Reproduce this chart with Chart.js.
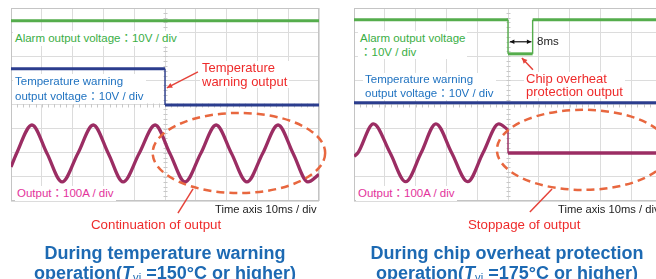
<!DOCTYPE html>
<html>
<head>
<meta charset="utf-8">
<script src="https://cdn.jsdelivr.net/npm/chart.js@4.4.1/dist/chart.umd.min.js"></script>
<style>
    html, body { margin: 0; padding: 0; background: #fff; overflow: hidden; }
    #stage {
        position: relative; width: 656px; height: 279px; overflow: hidden;
        font-family: "Liberation Sans", Arial, "Noto Sans CJK JP", sans-serif;
    }
    canvas { position: absolute; top: 0; }
    .lbl { position: absolute; white-space: nowrap; font-size: 11.5px; line-height: 15px; background: #fff; padding: 0 2px; }
    .green { color: #3aae45; }
    .blue { color: #1f72c0; }
    .pink { color: #e3329b; }
    .red { color: #ee2b2b; font-size: 13px; line-height: 13.5px; }
    .black { color: #222; font-size: 11.2px; background: none; }
    .title {
        position: absolute; text-align: center; font-weight: bold; font-size: 18px; line-height: 20px;
        color: #1d6ab3; white-space: nowrap;
    }
    .title sub { font-size: 0.62em; font-weight: normal; vertical-align: -2px; }
</style>
</head>
<body>
<div id="stage">
    <canvas id="leftScope" width="330" height="279" style="left:0"></canvas>
    <canvas id="rightScope" width="340" height="279" style="left:330px"></canvas>

    <!-- left panel -->
    <div class="lbl green" style="left:13px;top:31px">Alarm output voltage：10V / div</div>
    <div class="lbl blue" style="left:13px;top:74px">Temperature warning<br>output voltage：10V / div</div>
    <div class="lbl red" style="left:200px;top:61px">Temperature<br>warning output</div>
    <div class="lbl pink" style="left:15px;top:186px">Output：100A / div</div>
    <div class="lbl black" style="left:213px;top:202px">Time axis 10ms / div</div>
    <div class="lbl red" style="left:89px;top:218px;background:none;font-size:13.3px">Continuation of output</div>
    <div class="title" style="left:0;width:330px;top:243px">During temperature warning<br>operation(<i>T</i><sub>vj</sub> =150°C or higher)</div>

    <!-- right panel -->
    <div class="lbl green" style="left:358px;top:31px;line-height:14px">Alarm output voltage<br>：10V / div</div>
    <div class="lbl blue" style="left:363px;top:73px;line-height:13.5px">Temperature warning<br>output voltage：10V / div</div>
    <div class="lbl black" style="left:535px;top:34px;font-size:11.5px">8ms</div>
    <div class="lbl red" style="left:524px;top:72px;line-height:13px">Chip overheat<br>protection output</div>
    <div class="lbl pink" style="left:356px;top:186px">Output：100A / div</div>
    <div class="lbl black" style="left:556px;top:202px">Time axis 10ms / div</div>
    <div class="lbl red" style="left:466px;top:218px;background:none;font-size:13.3px">Stoppage of output</div>
    <div class="title" style="left:337px;width:340px;top:243px">During chip overheat protection<br>operation(<i>T</i><sub>vj</sub> =175°C or higher)</div>
</div>

<script>
/* =========================================================
   DATA  (time in ms, level in screen divisions from bottom)
   ========================================================= */

const leftAlarmT = [0, 100];
const leftAlarmV = [7.47, 7.47];

const leftWarnT = [0, 50, 50, 100];
const leftWarnV = [5.48, 5.48, 3.98, 3.98];

const leftOutT = [0, 1.8, 6.8, 11.7, 16.6, 21.7, 26.7, 31.6, 36.4, 41.6, 46.8,
                  51.6, 56.5, 61.6, 66.6, 71.6, 76.6, 81.7, 86.7, 91.6, 96.4, 100];
const leftOutV = [1.41, 1.97, 3.15, 1.97, 0.79, 1.97, 3.15, 1.97, 0.79, 1.97, 3.15,
                  1.97, 0.79, 1.97, 3.15, 1.97, 0.79, 1.97, 3.15, 1.97, 0.79, 1.1];

const rightAlarmT = [0, 50, 50, 58, 58, 100];
const rightAlarmV = [7.51, 7.51, 6.1, 6.1, 7.51, 7.51];

const rightWarnT = [0, 100];
const rightWarnV = [4.07, 4.07];

const rightOutT = [0, 1.3, 6.3, 11.7, 16.8, 21.8, 26.6, 31.7, 36.9, 41.9, 47.0, 50];
const rightOutV = [1.85, 2.0, 3.2, 2.0, 0.8, 2.0, 3.2, 2.0, 0.8, 2.0, 3.2, 2.95];

const rightStopT = [50, 50, 100];
const rightStopV = [2.95, 1.99, 1.99];


const COLORS = {
    alarm: "#55ad4c",
    warn: "#2b3d8e",
    output: "#9b2d63",
    grid: "#dcdcdc",
    frame: "#c4c4c4",
    mark: "#e8673f",
    arrow: "#e5433a"
};

function line(pts, color, width, smooth) {
    return {
        data: pts,
        borderColor: color,
        borderWidth: width,
        pointRadius: 0,
        fill: false,
        tension: 0,
        cubicInterpolationMode: smooth ? "monotone" : "default"
    };
}

// a scope trace: slow parts thick, fast edges (same time, new level) thin
function trace(ts, vs, color, width, smooth) {
    const sets = [];
    let run = [{ x: ts[0], y: vs[0] }];
    for (let i = 1; i < ts.length; i++) {
        if (ts[i] === ts[i - 1]) {
            if (run.length > 1) sets.push(line(run, color, width, smooth));
            sets.push(line([{ x: ts[i - 1], y: vs[i - 1] }, { x: ts[i], y: vs[i] }], color, 1.4, false));
            run = [{ x: ts[i], y: vs[i] }];
        } else {
            run.push({ x: ts[i], y: vs[i] });
        }
    }
    if (run.length > 1) sets.push(line(run, color, width, smooth));
    return sets;
}


/* =========================================================
   ANNOTATIONS (ellipse, arrows, centre ticks)
   ========================================================= */

function drawArrow(ctx, x0, y0, x1, y1, head, both) {
    ctx.beginPath();
    ctx.moveTo(x0, y0);
    ctx.lineTo(x1, y1);
    ctx.stroke();

    const tips = both ? [[x1, y1, x0, y0], [x0, y0, x1, y1]] : (head ? [[x1, y1, x0, y0]] : []);
    tips.forEach(([tx, ty, fx, fy]) => {
        const a = Math.atan2(ty - fy, tx - fx);
        ctx.beginPath();
        ctx.moveTo(tx, ty);
        ctx.lineTo(tx - head * Math.cos(a - 0.45), ty - head * Math.sin(a - 0.45));
        ctx.lineTo(tx - head * Math.cos(a + 0.45), ty - head * Math.sin(a + 0.45));
        ctx.closePath();
        ctx.fill();
    });
}

const scopeMarks = {
    id: "scopeMarks",

    beforeDatasetsDraw(chart) {
        const { ctx, chartArea: area, scales: { x, y } } = chart;
        ctx.save();
        ctx.strokeStyle = "#c8c8c8";
        ctx.lineWidth = 1;
        ctx.beginPath();
        const cx = Math.round(x.getPixelForValue(50)) + 0.5;
        for (let v = 0.2; v < 8; v += 0.2) {
            const py = Math.round(y.getPixelForValue(v)) + 0.5;
            ctx.moveTo(cx - 2, py);
            ctx.lineTo(cx + 2, py);
        }
        const cy = Math.round(y.getPixelForValue(4)) + 0.5;
        for (let t = 2; t < 100; t += 2) {
            const px = Math.round(x.getPixelForValue(t)) + 0.5;
            ctx.moveTo(px, cy - 2);
            ctx.lineTo(px, cy + 2);
        }
        ctx.stroke();

        ctx.strokeStyle = COLORS.frame;
        ctx.strokeRect(area.left + 0.5, area.top + 0.5, area.width - 1, area.height - 1);
        ctx.restore();
    },

    afterDatasetsDraw(chart, args, opts) {
        const { ctx, scales: { x, y } } = chart;
        const sx = x.getPixelForValue(1) - x.getPixelForValue(0);
        const sy = y.getPixelForValue(0) - y.getPixelForValue(1);
        ctx.save();

        const e = opts.ellipse;
        if (e) {
            ctx.strokeStyle = COLORS.mark;
            ctx.lineWidth = 2.5;
            ctx.setLineDash([8, 5]);
            ctx.beginPath();
            ctx.ellipse(x.getPixelForValue(e.t), y.getPixelForValue(e.v), e.rt * sx, e.rv * sy, 0, 0, Math.PI * 2);
            ctx.stroke();
            ctx.setLineDash([]);
        }

        (opts.arrows || []).forEach(a => {
            ctx.strokeStyle = a.color || COLORS.arrow;
            ctx.fillStyle = a.color || COLORS.arrow;
            ctx.lineWidth = a.width || 1.5;
            drawArrow(
                ctx,
                x.getPixelForValue(a.from[0]), y.getPixelForValue(a.from[1]),
                x.getPixelForValue(a.to[0]), y.getPixelForValue(a.to[1]),
                a.head || 0, a.both
            );
        });

        ctx.restore();
    }
};


/* =========================================================
   CHARTS
   ========================================================= */

function scopeOptions(padding, marks) {
    return {
        responsive: false,
        animation: false,
        devicePixelRatio: 1,
        layout: { padding },
        plugins: {
            legend: { display: false },
            tooltip: { enabled: false },
            scopeMarks: marks
        },
        scales: {
            x: {
                type: "linear", min: 0, max: 100,
                ticks: { display: false, stepSize: 10 },
                grid: { color: COLORS.grid, drawTicks: false },
                border: { display: false }
            },
            y: {
                type: "linear", min: 0, max: 8,
                ticks: { display: false, stepSize: 1 },
                grid: { color: COLORS.grid, drawTicks: false },
                border: { display: false }
            }
        }
    };
}

new Chart(document.getElementById("leftScope").getContext("2d"), {
    type: "line",
    data: {
        datasets: [
            ...trace(leftAlarmT, leftAlarmV, COLORS.alarm, 3, false),
            ...trace(leftWarnT, leftWarnV, COLORS.warn, 3, false),
            ...trace(leftOutT, leftOutV, COLORS.output, 3.3, true)
        ]
    },
    options: scopeOptions(
        { left: 11, top: 8, right: 11, bottom: 78 },
        {
            ellipse: { t: 74, v: 1.99, rt: 28, rv: 1.66 },
            arrows: [
                { from: [60.7, 5.35], to: [50.6, 4.69], head: 6 },
                { from: [54.2, -0.5], to: [59.1, 0.5] }
            ]
        }
    ),
    plugins: [scopeMarks]
});

new Chart(document.getElementById("rightScope").getContext("2d"), {
    type: "line",
    data: {
        datasets: [
            ...trace(rightAlarmT, rightAlarmV, COLORS.alarm, 3, false),
            ...trace(rightWarnT, rightWarnV, COLORS.warn, 3, false),
            ...trace(rightOutT, rightOutV, COLORS.output, 3.3, true),
            ...trace(rightStopT, rightStopV, COLORS.output, 3.3, false)
        ]
    },
    options: scopeOptions(
        { left: 24, top: 8, right: 8, bottom: 78 },
        {
            ellipse: { t: 74.4, v: 2.12, rt: 28, rv: 1.66 },
            arrows: [
                { from: [58.1, 5.44], to: [54.5, 5.93], head: 6 },
                { from: [57.1, -0.46], to: [64.3, 0.5] },
                { from: [50.6, 6.6], to: [57.6, 6.6], head: 5, both: true, color: "#111", width: 1.2 }
            ]
        }
    ),
    plugins: [scopeMarks]
});
</script>
</body>
</html>
